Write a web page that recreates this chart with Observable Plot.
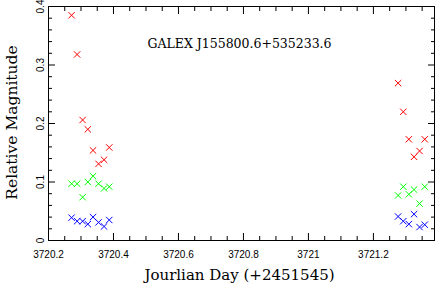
<!DOCTYPE html>
<html><head><meta charset="utf-8">
<script src="https://cdn.jsdelivr.net/npm/d3@7"></script>
<script src="https://cdn.jsdelivr.net/npm/@observablehq/plot@0.6"></script>
<style>body{margin:0;background:#fff}</style>
</head><body><div id="chart"></div>
<script>
const title = "GALEX J155800.6+535233.6";
const xLabel = "Jourlian Day (+2451545)";
const yLabel = "Relative Magnitude";
const times = [3720.271,3720.288,3720.305,3720.321,3720.337,3720.354,3720.371,3720.387,
               3721.276,3721.292,3721.309,3721.325,3721.342,3721.358];
const redVals   = [0.385,0.318,0.206,0.190,0.154,0.131,0.138,0.159, 0.269,0.220,0.173,0.143,0.153,0.173];
const greenVals = [0.097,0.097,0.074,0.100,0.110,0.097,0.089,0.092, 0.077,0.092,0.079,0.087,0.063,0.092];
const blueVals  = [0.039,0.033,0.033,0.028,0.040,0.031,0.024,0.035, 0.041,0.033,0.028,0.045,0.023,0.027];
const xMajor = [3720.2,3720.4,3720.6,3720.8,3721.0,3721.2];
const xMinor = [3720.25,3720.3,3720.35,3720.45,3720.5,3720.55,3720.65,3720.7,3720.75,3720.85,3720.9,3720.95,3721.05,3721.1,3721.15,3721.25,3721.3,3721.35];
const yMajor = [0,0.1,0.2,0.3,0.4];
const yMinor = [0.02,0.04,0.06,0.08,0.12,0.14,0.16,0.18,0.22,0.24,0.26,0.28,0.32,0.34,0.36,0.38];

const series = [
  {vals: redVals, color: "#ff0000"},
  {vals: greenVals, color: "#00ff00"},
  {vals: blueVals, color: "#0000ff"}
];
const pts = series.flatMap(s => times.map((t,i) => ({t, v: s.vals[i], c: s.color})));
const fmt = d => String(+d.toFixed(2));
const serif = "DejaVu Serif";
const sans = "Liberation Sans, Arial, sans-serif";

// inward ticks: draw the axis tick outward, then shift it inside the frame by its own length
const MAJ = 7, MIN = 4;
const tk = {fill: "none", label: null, stroke: "black", strokeWidth: 1};

const chart = Plot.plot({
  width: 436, height: 286,
  marginLeft: 48, marginRight: 2, marginTop: 6, marginBottom: 46,
  x: {domain: [3720.2, 3721.388]},
  y: {domain: [0, 0.4]},
  marks: [
    Plot.axisX(xMajor, {anchor: "bottom", tickSize: 0, tickPadding: 10, tickFormat: fmt, fontSize: 10, fontFamily: sans, label: null, lineAnchor: "top"}),
    Plot.axisY(yMajor, {anchor: "left", tickSize: 0, tickPadding: 5, tickFormat: fmt, fontSize: 10, fontFamily: sans, label: null, rotate: -90, textAnchor: "middle", lineAnchor: "bottom"}),
    Plot.dot(pts, {x: "t", y: "v", stroke: "c", symbol: "times", r: 3, strokeWidth: 1}),
    Plot.text([title], {frameAnchor: "top-left", dx: 191, dy: 37, textAnchor: "middle", lineAnchor: "middle", fontFamily: serif, fontSize: 12.5, fill: "black"}),
    Plot.text([xLabel], {frameAnchor: "bottom", dx: -2, dy: 35, textAnchor: "middle", lineAnchor: "middle", fontFamily: serif, fontSize: 15, fill: "black"}),
    Plot.text([yLabel], {frameAnchor: "left", dx: -36, dy: -1, rotate: -90, textAnchor: "middle", lineAnchor: "middle", fontFamily: serif, fontSize: 15.5, fill: "black"}),
    Plot.frame({stroke: "black"}),
    Plot.axisX(xMajor, {anchor: "bottom", tickSize: MAJ, dy: -MAJ, ...tk}),
    Plot.axisX(xMinor, {anchor: "bottom", tickSize: MIN, dy: -MIN, ...tk}),
    Plot.axisX(xMajor, {anchor: "top", tickSize: MAJ, dy: MAJ, ...tk}),
    Plot.axisX(xMinor, {anchor: "top", tickSize: MIN, dy: MIN, ...tk}),
    Plot.axisY(yMajor, {anchor: "left", tickSize: MAJ, dx: MAJ, ...tk}),
    Plot.axisY(yMinor, {anchor: "left", tickSize: MIN, dx: MIN, ...tk}),
    Plot.axisY(yMajor, {anchor: "right", tickSize: MAJ, dx: -MAJ, ...tk}),
    Plot.axisY(yMinor, {anchor: "right", tickSize: MIN, dx: -MIN, ...tk})
  ]
});
document.getElementById("chart").appendChild(chart);
</script></body></html>
